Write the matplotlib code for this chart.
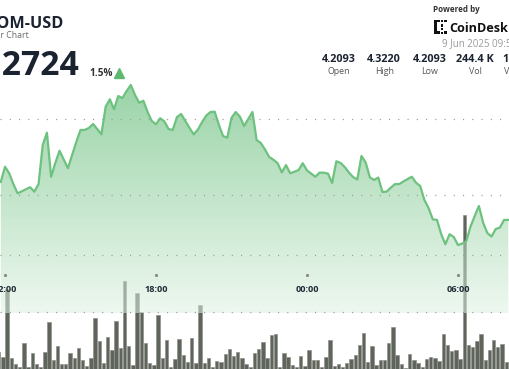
import numpy as np
import matplotlib
matplotlib.use("Agg")
import matplotlib.pyplot as plt
from matplotlib.patches import Polygon, Rectangle
from matplotlib.lines import Line2D
from matplotlib.transforms import blended_transform_factory

# ---------------- data ----------------
symbol = "ATOM-USD"
subtitle = "24 Hour Chart"
last_price = "4.2724"
change = "1.5%"
stat_values = ["4.2093", "4.3220", "4.2093", "244.4 K", "1.04 M"]
stat_labels = ["Open", "High", "Low", "Vol", "Vol USD"]
timestamp = "9 Jun 2025 09:54 UTC"

tick_labels = ["12:00", "18:00", "00:00", "06:00"]
tick_minutes = [0, 360, 720, 1080]          # minutes after 12:00

# 10-minute closes (first close at 11:50)
price_start_min = -10
prices = [4.2586, 4.2686, 4.2643, 4.2572, 4.2511, 4.2524, 4.2538, 4.2551, 4.2522, 4.2572,
          4.2829, 4.2910, 4.2620, 4.2711, 4.2791, 4.2734, 4.2676, 4.2763, 4.2849, 4.2928,
          4.2928, 4.2941, 4.2967, 4.2934, 4.2899, 4.3081, 4.3130, 4.3064, 4.3151, 4.3138,
          4.3184, 4.3224, 4.3158, 4.3107, 4.3120, 4.3046, 4.2987, 4.2965, 4.3005, 4.2984,
          4.2934, 4.2928, 4.3013, 4.3033, 4.2987, 4.2941, 4.2899, 4.2931, 4.2980, 4.3023,
          4.3046, 4.3048, 4.2961, 4.2888, 4.2877, 4.3007, 4.3046, 4.3016, 4.2954, 4.3000,
          4.3046, 4.2862, 4.2842, 4.2799, 4.2750, 4.2732, 4.2709, 4.2649, 4.2697, 4.2643,
          4.2653, 4.2664, 4.2709, 4.2662, 4.2641, 4.2620, 4.2647, 4.2647, 4.2641, 4.2579,
          4.2722, 4.2711, 4.2684, 4.2648, 4.2618, 4.2602, 4.2757, 4.2714, 4.2616, 4.2599,
          4.2615, 4.2520, 4.2522, 4.2549, 4.2572, 4.2572, 4.2589, 4.2605, 4.2620, 4.2581,
          4.2559, 4.2467, 4.2414, 4.2340, 4.2336, 4.2243, 4.2176, 4.2242, 4.2224, 4.2171,
          4.2180, 4.2197, 4.2293, 4.2362, 4.2428, 4.2318, 4.2250, 4.2227, 4.2276, 4.2286,
          4.2336, 4.2336]

# 10-minute volumes in K (first bar is the 11:40 candle)
volume_start_min = -20
volumes_k = [1.52, 1.08, 7.02, 0.94, 0.44, 0.15, 2.25, 0.20, 1.43, 0.44,
             0.15, 1.52, 4.10, 0.79, 2.02, 0.44, 0.44, 1.43, 0.94, 1.87,
             0.79, 0.29, 0.96, 4.50, 2.48, 0.50, 2.81, 1.67, 4.21, 1.82,
             7.74, 2.02, 0.35, 6.69, 4.97, 2.25, 0.50, 0.35, 4.74, 0.94,
             2.54, 0.15, 0.85, 2.60, 1.20, 0.61, 2.69, 0.55, 5.61, 0.55,
             0.94, 0.15, 0.73, 0.64, 1.29, 1.75, 1.14, 1.49, 0.94, 0.44,
             0.15, 1.43, 1.75, 2.39, 0.94, 2.96, 3.07, 0.15, 1.43, 1.03,
             0.38, 0.20, 1.17, 0.29, 1.64, 0.76, 0.76, 0.15, 1.03, 2.52,
             0.29, 0.44, 0.20, 0.55, 0.90, 1.23, 2.08, 3.16, 0.64, 2.02,
             0.38, 0.79, 0.76, 2.31, 3.68, 1.23, 0.44, 0.06, 1.32, 0.82,
             0.50, 0.20, 0.88, 1.08, 0.96, 0.73, 3.07, 2.08, 1.55, 1.67,
             0.88, 13.51, 2.08, 1.96, 2.48, 3.07, 0.79, 1.67, 2.54, 1.93,
             2.19, 0.61, 0.44]

price_grid = [4.30, 4.25]
volume_grid = [5, 10]

# ---------------- figure ----------------
W, H = 510, 369
fig = plt.figure(figsize=(W / 100, H / 100), dpi=100)
fig.patch.set_facecolor("white")
FONT = "Open Sans"

price_times = price_start_min + 10 * np.arange(len(prices))
bar_times = volume_start_min + 5 + 10 * np.arange(len(volumes_k))

xlim = (-5 / 0.4194, 505 / 0.4194)
def p_at(ypx):
    return 4.30 - (ypx - 119) / 1520.0
kpp = 5 / 57.0

ax_v = fig.add_axes([0, 0, 1, 1], label="vol")
ax_p = fig.add_axes([0, 0, 1, 1], label="price")
for a in (ax_v, ax_p):
    a.set_xlim(*xlim)
    a.set_axis_off()
ax_p.patch.set_visible(False)
ax_v.set_ylim(0, H * kpp)
ax_p.set_ylim(p_at(H), p_at(0))

# volume bars
ax_v.bar(bar_times, volumes_k, width=8, color="#5f655d", edgecolor="#8d928a",
         linewidth=0.5, zorder=2)

# gradient fill under the price line
bottom = p_at(313)
verts = [(price_times[0], bottom)] + list(zip(price_times, prices)) + [(price_times[-1], bottom)]
poly = Polygon(verts, closed=True, facecolor="none", edgecolor="none",
               transform=ax_p.transData)
ax_p.add_patch(poly)
top_c = np.array([155, 212, 168]) / 255.0
bot_c = np.array([238, 248, 240]) / 255.0
alpha = 0.55
n = 256
f = np.linspace(0, 1, n)[:, None]
target = top_c * (1 - f) + bot_c * f
rgb = 1 - (1 - target) / alpha
img = np.zeros((n, 1, 4))
img[:, 0, :3] = np.clip(rgb, 0, 1)
img[:, 0, 3] = alpha
im = ax_p.imshow(img, extent=[xlim[0], xlim[1], bottom, p_at(85)], aspect="auto",
                 origin="upper", zorder=1, interpolation="bilinear")
im.set_clip_path(poly)

# dotted gridlines
dot_kw = dict(color="#9a9a9a", linewidth=0.9, linestyle=(0, (0.9, 6.5)), zorder=3)
for g in price_grid:
    ax_p.axhline(g, **dot_kw)
tr_v = blended_transform_factory(ax_p.transAxes, ax_v.transData)
for g in volume_grid:
    ax_p.add_line(Line2D([0, 1], [g, g], transform=tr_v, **dot_kw))

# price line
ax_p.plot(price_times, prices, color="#6dc27f", linewidth=1.6, zorder=4,
          solid_joinstyle="round")

# time ticks and labels
tr_x = ax_p.get_xaxis_transform()
for t, lab in zip(tick_minutes, tick_labels):
    ax_p.plot([t], [(H - 275) / H], marker="o", markersize=1.3, color="#8a8a8a",
              transform=tr_x, zorder=5)
    ax_p.text(t, (H - 289) / H, lab, transform=tr_x, ha="center", va="center",
              fontsize=6.6, fontweight="bold", color="#1f2937", family=FONT, zorder=6)

# ---------------- header ----------------
def fx(x):
    return x / W
def fy(y):
    return 1 - y / H

fig.text(fx(63), fy(28.3), symbol, ha="right", va="baseline", fontsize=11.7,
         fontweight="bold", color="#1b2330", family=FONT)
fig.text(fx(28.5), fy(38.5), subtitle, ha="right", va="baseline", fontsize=6.3,
         color="#6b6b6b", family=FONT)
fig.text(fx(79), fy(75), last_price, ha="right", va="baseline", fontsize=24.2,
         fontweight="bold", color="#1b2330", family=FONT)
fig.text(fx(89.3), fy(75.7), change, ha="left", va="baseline", fontsize=7.2,
         fontweight="bold", color="#333333", family=FONT)
fig.add_artist(Line2D([fx(119.5)], [fy(73)], marker="^", markersize=6.5,
                      color="#5cb96e", transform=fig.transFigure))

fig.text(fx(433.3), fy(12), "Powered by", ha="left", va="baseline", fontsize=5.8,
         fontweight="bold", color="#333333", family=FONT)
fig.text(fx(449.5), fy(31.5), "CoinDesk", ha="left", va="baseline", fontsize=9.1,
         fontweight="bold", color="#111111", family=FONT)
# logo glyph
def rect(x0, y0, w, h):
    fig.add_artist(Rectangle((fx(x0), fy(y0 + h)), w / W, h / H,
                             transform=fig.transFigure, color="#111111", lw=0))
rect(434, 20, 2.6, 13.5)
rect(436.6, 20, 3, 2.4)
rect(436.6, 31.1, 3, 2.4)
rect(441, 24.5, 2, 2)
rect(441, 28, 2, 2)
rect(444.5, 20, 2.4, 2.4)
rect(444.5, 31.1, 2.4, 2.4)
rect(441, 20, 2, 1.6)
rect(441, 31.9, 2, 1.6)

fig.text(fx(441.7), fy(46.5), timestamp, ha="left", va="baseline", fontsize=7.0,
         color="#9a9a9a", family=FONT)

stat_centers = [338.8, 384.2, 429.5, 475.3, 520.6]
for cx, v, lab in zip(stat_centers, stat_values, stat_labels):
    fig.text(fx(cx), fy(62.3), v, ha="center", va="baseline", fontsize=7.8,
             fontweight="bold", color="#1b2330", family=FONT)
    fig.text(fx(cx), fy(74.3), lab, ha="center", va="baseline", fontsize=6.4,
             color="#555555", family=FONT)

fig.savefig("out.png", dpi=100, facecolor="white")
